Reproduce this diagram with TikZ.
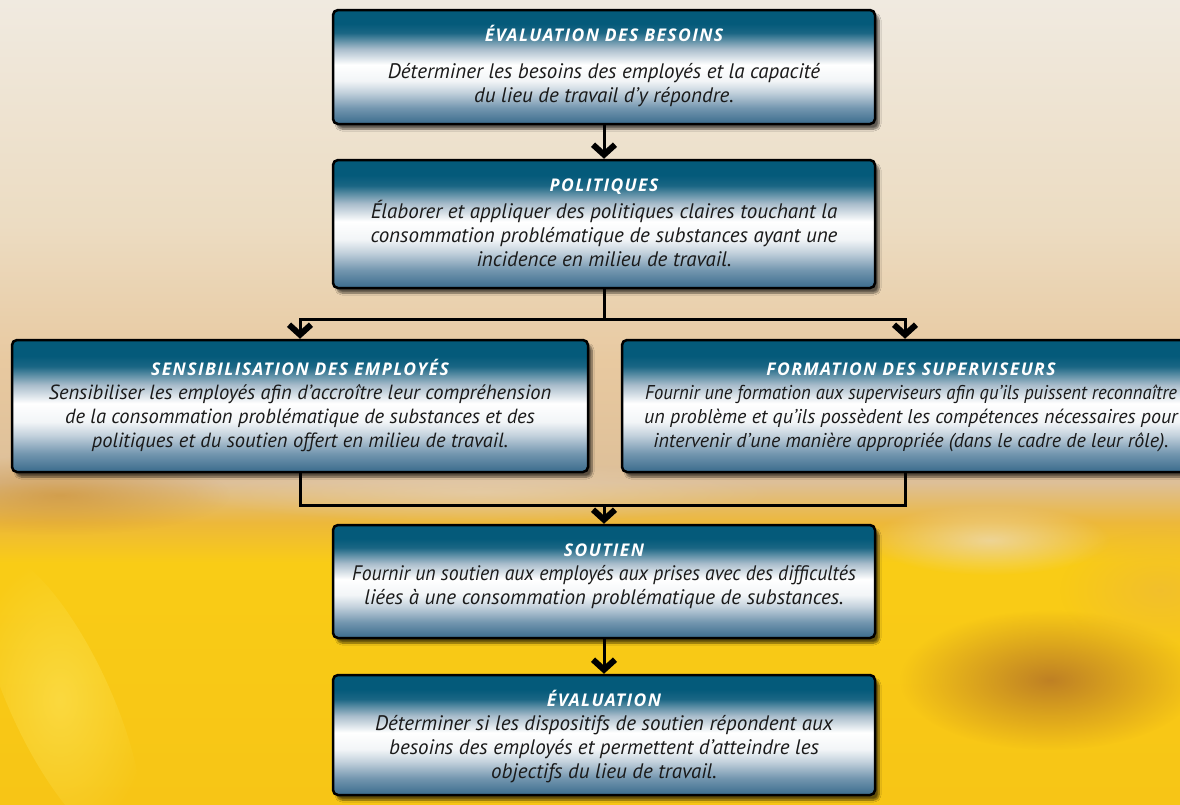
\documentclass[tikz,border=0pt]{standalone}
\usepackage{fontspec}
\setmainfont{PT Sans}
\newfontfamily\titrefont{Open Sans}[LetterSpace=8]
\usetikzlibrary{positioning, calc, arrows.meta, shadows.blur, fadings}

\definecolor{sarcelle}{HTML}{045A7A}
\definecolor{sarcelle2}{HTML}{1A6684}
\definecolor{bleuclair}{HTML}{A8BCCB}
\definecolor{bleupale}{HTML}{C4D2DD}
\definecolor{bleumoyen}{HTML}{7396AF}
\definecolor{bleubas}{HTML}{3A6B8C}
\definecolor{presblanc}{HTML}{F2F5F7}
\definecolor{creme}{HTML}{F0EAE0}
\definecolor{sable}{HTML}{ECDCC2}
\definecolor{peche}{HTML}{E8C9A0}
\definecolor{beige}{HTML}{DDBF98}
\definecolor{ocre}{HTML}{EDB83A}
\definecolor{jaune}{HTML}{F9CC16}
\definecolor{jaunebas}{HTML}{F7C516}
\definecolor{brun}{HTML}{B06E28}
\definecolor{encre}{HTML}{1A1A1A}

\pgfdeclareverticalshading{boite}{100bp}{color(0bp)=(bleubas); color(25bp)=(bleubas);
  color(32bp)=(bleumoyen); color(39bp)=(bleupale); color(44bp)=(presblanc);
  color(51bp)=(white); color(58bp)=(bleuclair); color(65bp)=(sarcelle2);
  color(69bp)=(sarcelle); color(100bp)=(sarcelle)}
\pgfdeclareverticalshading{fond}{100bp}{color(0bp)=(jaunebas); color(25bp)=(jaunebas);
  color(40bp)=(jaune); color(42.5bp)=(ocre); color(45bp)=(beige); color(52.5bp)=(peche);
  color(61bp)=(sable); color(75bp)=(creme); color(100bp)=(creme)}
\tikzfading[name=flou, inner color=transparent!0, outer color=transparent!100]

\tikzset{
  etape/.style={draw=black, line width=2.5pt, rounded corners=5pt, shading=boite, inner sep=0pt,
    blur shadow={shadow xshift=4pt, shadow yshift=-5pt, shadow blur steps=8, shadow opacity=60}},
  titre/.style={text=white, text height=12.5pt, text depth=0pt, inner sep=0pt,
    font=\titrefont\fontsize{17.5}{20}\selectfont\bfseries\itshape},
  texte/.style={align=center, text=encre, font=\fontsize{21}{24}\selectfont\itshape},
  lien/.style={line width=3pt},
  fleche/.style={line width=3pt, -{Straight Barb[length=10pt, width=22pt, line width=6pt]}}
}

\begin{document}
\begin{tikzpicture}[x=1pt, y=-1pt]

    % Background
    \clip (0,0) rectangle (1180,804);
    \shade[shading=fond] (0,0) rectangle (1180,804);
    \fill[brun, opacity=0.8, path fading=flou] (1050,680) ellipse (150 and 70);
    \fill[brun!60!ocre, opacity=0.6, path fading=flou] (60,495) ellipse (170 and 40);
    \fill[beige!70!white, opacity=0.6, path fading=flou] (480,492) ellipse (300 and 30);
    \fill[sable, opacity=0.7, path fading=flou] (990,540) ellipse (120 and 35);
    \fill[yellow!45!white, opacity=0.35, path fading=flou, rotate around={25:(60,700)}] (60,700) ellipse (50 and 160);
    \fill[ocre, opacity=0.6, path fading=flou] (1160,590) ellipse (100 and 60);

    % Boxes
    \node[etape, minimum width=542pt, minimum height=114pt] (besoins) at (604,67) {};
    \node[etape, minimum width=542pt, minimum height=128pt] (politiques) at (604,224) {};
    \node[etape, minimum width=576pt, minimum height=132pt] (sensib) at (300,406) {};
    \node[etape, minimum width=566pt, minimum height=132pt] (formation) at (905,406) {};
    \node[etape, minimum width=542pt, minimum height=113pt] (soutien) at (604,581.5) {};
    \node[etape, minimum width=542pt, minimum height=120pt] (evaluation) at (604,735) {};

    % Titles
    \node[titre] (besoins-titre) at (604,35) {ÉVALUATION DES BESOINS};
    \node[titre] (politiques-titre) at (604,185) {POLITIQUES};
    \node[titre] (sensib-titre) at (300,369) {SENSIBILISATION DES EMPLOYÉS};
    \node[titre] (formation-titre) at (911,369) {FORMATION DES SUPERVISEURS};
    \node[titre] (soutien-titre) at (604,550) {SOUTIEN};
    \node[titre] (evaluation-titre) at (604,700) {ÉVALUATION};

    % Texts
    \node[texte] (besoins-texte) at (604,85)
        {Déterminer les besoins des employés et la capacité\\du lieu de travail d’y répondre.};
    \node[texte] (politiques-texte) at (604,233)
        {Élaborer et appliquer des politiques claires touchant la\\consommation problématique de substances ayant une\\incidence en milieu de travail.};
    \node[texte, font=\fontsize{20.5}{24}\selectfont\itshape] (sensib-texte) at (300,418)
        {Sensibiliser les employés afin d’accroître leur compréhension\\de la consommation problématique de substances et des\\politiques et du soutien offert en milieu de travail.};
    \node[texte, font=\fontsize{20}{24}\selectfont\itshape] (formation-texte) at (911,418)
        {\scalebox{0.93}[1]{Fournir une formation aux superviseurs afin qu’ils puissent reconnaître}\\un problème et qu’ils possèdent les compétences nécessaires pour\\intervenir d’une manière appropriée (dans le cadre de leur rôle).};
    \node[texte] (soutien-texte) at (604,587)
        {\scalebox{0.94}[1]{Fournir un soutien aux employés aux prises avec des difficultés}\\liées à une consommation problématique de substances.};
    \node[texte] (evaluation-texte) at (604,749)
        {Déterminer si les dispositifs de soutien répondent aux\\besoins des employés et permettent d’atteindre les\\objectifs du lieu de travail.};

    % Connectors
    \coordinate (branche) at (604,319);
    \coordinate (jonction) at (604,505);
    \draw[fleche] (besoins.south) -- (politiques.north);
    \draw[lien] (politiques.south) -- (branche);
    \draw[fleche] (branche) -| (sensib.north);
    \draw[fleche] (branche) -| (formation.north);
    \draw[lien] (sensib.south) |- (jonction) -| (formation.south);
    \draw[fleche] (jonction) -- (soutien.north);
    \draw[fleche] (soutien.south) -- (evaluation.north);

\end{tikzpicture}
\end{document}
